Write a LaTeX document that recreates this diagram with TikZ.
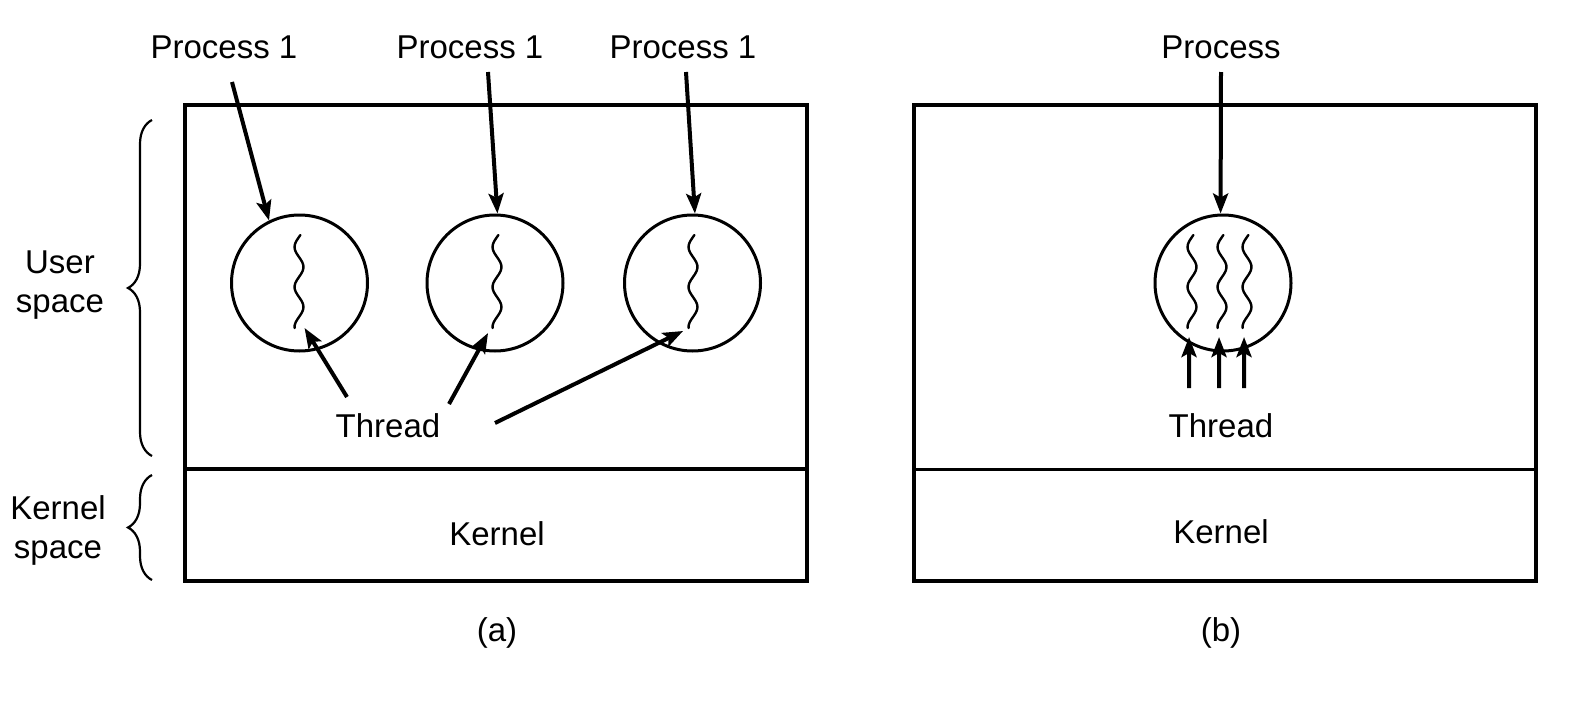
\documentclass[tikz,border=0pt]{standalone}
\usepackage{fontspec}
\setmainfont{Liberation Sans}
\usetikzlibrary{arrows.meta,calc,decorations.pathreplacing}
\begin{document}
\begin{tikzpicture}[x=0.5pt,y=-0.5pt,
  lab/.style={font=\fontsize{16.5}{19.5}\selectfont, inner sep=0pt},
  box/.style={draw, line width=1.6pt, minimum width=311pt, minimum height=238pt, inner sep=0pt},
  divline/.style={line width=1.5pt},
  proc/.style={draw, circle, line width=1.5pt, minimum size=68pt, inner sep=0pt},
  arr/.style={-{Stealth[length=10pt,width=7.5pt,inset=2pt]}, line width=2pt},
  threadline/.style={line width=1.2pt, line cap=round},
  brc/.style={line width=1.1pt, decorate, decoration={brace, amplitude=12pt}},
  thread/.pic={
    \draw[threadline] plot[smooth, samples=32, domain=0:93] ({4.5*sin(9*(\x-22))}, \x);
    \coordinate (-end) at ({4.5*sin(9*(93-22))}, 93);
  }
]
\useasboundingbox (0,0) rectangle (1570,702);

% ---------- frames ----------
\node[box] (fa) at (496,343) {};
\draw[divline, line width=2pt] (185,469) -- (807,469);
\node[box] (fb) at (1225,343) {};
\draw[divline] (914,469) -- (1536,469);

% braces and side labels
\draw[brc] (152,456) -- (152,120);
\draw[brc] (152,580) -- (152,475);
\node[lab, align=center] (us) at (60,285) {User\\space};
\node[lab, align=center] (ks) at (58,530) {Kernel\\space};

% circles
\node[proc] (c1) at (299.5,283) {};
\node[proc] (c2) at (495,283) {};
\node[proc] (c3) at (692.5,283) {};
\node[proc] (c4) at (1223,283) {};

% threads
\pic (th1) at (299,235) {thread};
\pic (th2) at (497,235) {thread};
\pic (th3) at (693,235) {thread};
\pic (th4) at (1192,235) {thread};
\pic (th5) at (1222,235) {thread};
\pic (th6) at (1247,235) {thread};

% labels
\node[lab, anchor=base] (p1) at (224,58) {Process 1};
\node[lab, anchor=base] (p2) at (470,58) {Process 1};
\node[lab, anchor=base] (p3) at (683,58) {Process 1};
\node[lab, anchor=base] (p4) at (1221,58) {Process};
\node[lab, anchor=base] (t1) at (388,437) {Thread};
\node[lab, anchor=base] (t2) at (1221,437) {Thread};
\node[lab, anchor=base] (k1) at (497,545) {Kernel};
\node[lab, anchor=base] (k2) at (1221,543) {Kernel};
\node[lab, anchor=base] (la) at (497,641) {(a)};
\node[lab, anchor=base] (lb) at (1221,641) {(b)};

% process arrows
\draw[arr] ($(p1.base)+(8,24)$) -- (c1.116);
\draw[arr] ($(p2.base)+(18,14)$) -- (c2.88);
\draw[arr] ($(p3.base)+(3,14)$) -- (c3.88);
\draw[arr] ($(p4.base)+(0,14)$) -- (c4.92);

% thread arrows (a)
\draw[arr] ($(t1.base)+(-41,-40)$) -- ($(th1-end)+(10,0)$);
\draw[arr] ($(t1.base)+(61,-33)$) -- ($(th2-end)+(-4.5,5)$);
\draw[arr] ($(t1.base)+(107,-14)$) -- ($(th3-end)+(-5.5,3)$);

% thread arrows (b)
\draw[arr] ($(t2.base)+(-32,-49)$) -- ($(th4-end)+(1.5,9)$);
\draw[arr] ($(t2.base)+(-2,-49)$) -- ($(th5-end)+(1.5,9)$);
\draw[arr] ($(t2.base)+(23,-49)$) -- ($(th6-end)+(1.5,9)$);
\end{tikzpicture}
\end{document}
